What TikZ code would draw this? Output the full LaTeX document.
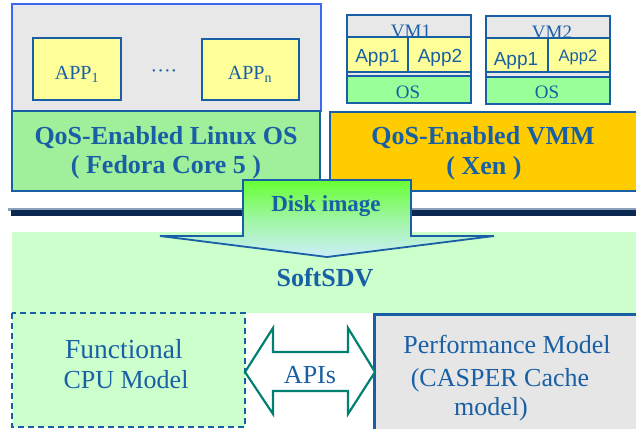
\documentclass[tikz,border=0pt]{standalone}
\usepackage{fontspec}
\setmainfont{Liberation Serif}
\newfontfamily\arialf{Liberation Sans}
\definecolor{dblue}{RGB}{25,95,165}
\definecolor{bblue}{RGB}{60,105,240}
\definecolor{lgray}{RGB}{232,232,232}
\definecolor{lyellow}{RGB}{255,255,153}
\definecolor{vgreen}{RGB}{153,255,153}
\definecolor{osgreen}{RGB}{160,240,155}
\definecolor{vorange}{RGB}{255,204,0}
\definecolor{sgreen}{RGB}{204,255,204}
\definecolor{pgray}{RGB}{230,230,230}
\definecolor{teal2}{RGB}{0,128,112}
\definecolor{navy2}{RGB}{10,40,80}
\definecolor{steel}{RGB}{140,160,185}
\definecolor{dgreen}{RGB}{102,255,51}
\definecolor{lcyan}{RGB}{204,238,250}
\begin{document}
\begin{tikzpicture}[x=1pt,y=-1pt,
  txt/.style={text=dblue, inner sep=0pt, anchor=base},
  boxline/.style={draw=dblue, line width=1.8pt},
  big/.style={font=\fontsize{26}{28}\selectfont\bfseries},
  reg/.style={font=\fontsize{26}{28}\selectfont},
  appf/.style={font=\arialf\fontsize{19}{21}\selectfont},
  osf/.style={font=\fontsize{19}{21}\selectfont}]
\useasboundingbox (0,0) rectangle (636,428);
\clip (0,0) rectangle (636,428);

% ---------- Left: QoS-Enabled Linux OS ----------
\path[fill=lgray, draw=bblue, line width=1.8pt] (12,4) rectangle (321,111);
\node[fill=lyellow, boxline, minimum width=88pt, minimum height=62pt, inner sep=0pt] (app1) at (77,69) {};
\node[fill=lyellow, boxline, minimum width=97pt, minimum height=61pt, inner sep=0pt] (appn) at (250.5,69.5) {};
\node[txt, font=\fontsize{20}{22}\selectfont] (t-app1) at (77,79) {APP\textsubscript{1}};
\node[txt, font=\fontsize{20}{22}\selectfont] (t-appn) at (250,79) {APP\textsubscript{n}};
\node[txt, font=\fontsize{20}{22}\selectfont] (dots) at (164,77) {····};
\node[fill=osgreen, boxline, minimum width=308pt, minimum height=80pt, inner sep=0pt] (linux) at (166,151) {};
\node[txt, big] (t-linux1) at (166,144) {QoS-Enabled Linux OS};
\node[txt, big] (t-linux2) at (166,173) {( Fedora Core 5 )};

% ---------- Right: VMs and VMM ----------
\path[fill=lgray, boxline] (347,15) rectangle (471,103);
\path[fill=lgray, boxline] (486,16) rectangle (610,104);
\node[txt, osf] (t-vm1) at (411,37.5) {VM1};
\node[txt, osf] (t-vm2) at (552,38) {VM2};
\path[fill=lyellow, boxline] (347,37) rectangle (408,72);
\path[fill=lyellow, boxline] (408,37) rectangle (471,72);
\path[fill=vgreen, boxline] (347,76) rectangle (471,103);
\path[fill=lyellow, boxline] (486,38) rectangle (548,72);
\path[fill=lyellow, boxline] (548,38) rectangle (610,72);
\path[fill=vgreen, boxline] (486,77) rectangle (610,104);
\node[txt, appf] (t-v1a1) at (377.5,63) {App1};
\node[txt, appf] (t-v1a2) at (440,63) {App2};
\node[txt, appf] (t-v2a1) at (516,65) {App1};
\node[txt, appf, font=\arialf\fontsize{16.5}{18}\selectfont] (t-v2a2) at (578,61) {App2};
\node[txt, osf] (t-os1) at (408,98) {OS};
\node[txt, osf] (t-os2) at (547,98) {OS};
\path[fill=vorange, boxline] (330,112) rectangle (642,191);
\node[txt, big] (t-vmm1) at (483,144) {QoS-Enabled VMM};
\node[txt, big] (t-vmm2) at (484,174) {( Xen )};

% ---------- divider ----------
\fill[steel] (8,207.5) rectangle (636,210.5);
\fill[navy2] (11,210) rectangle (636,216);

% ---------- SoftSDV ----------
\fill[sgreen] (12,232) rectangle (636,313);
\node[txt, big] (t-soft) at (325,286) {SoftSDV};

% ---------- Disk image arrow ----------
\path[top color=dgreen, bottom color=lcyan, middle color=lcyan!55!dgreen, shading angle=0,
      draw=dblue, line width=1.8pt, line join=miter]
  (243,180) -- (411,180) -- (411,236) -- (494,236) -- (327,257) -- (160,236) -- (243,236) -- cycle;
\node[txt, font=\fontsize{23}{25}\selectfont\bfseries] (t-disk) at (326,211) {Disk image};

% ---------- Functional CPU model ----------
\path[fill=sgreen, draw=dblue, line width=1.8pt, dash pattern=on 6pt off 4pt] (12,313) rectangle (245,427);
\node[txt, font=\fontsize{27.5}{29}\selectfont] (t-f1) at (124,358) {Functional};
\node[txt, reg] (t-f2) at (126,388) {CPU Model};

% ---------- Performance model ----------
\path[fill=pgray, draw=dblue, line width=3pt] (374,314.5) rectangle (645,432);
\node[txt, reg] (t-p1) at (507,353) {Performance Model};
\node[txt, reg] (t-p2) at (500,386) {(CASPER Cache};
\node[txt, reg] (t-p3) at (491,415) {model)};

% ---------- APIs double arrow ----------
\path[fill=white, draw=teal2, line width=2.2pt, line join=miter]
  (245,372) -- (273,328) -- (273,352) -- (348,352) -- (348,328) -- (375,372)
  -- (348,414) -- (348,391) -- (273,391) -- (273,414) -- cycle;
\node[txt, reg] (t-api) at (310,383) {APIs};
\end{tikzpicture}
\end{document}
